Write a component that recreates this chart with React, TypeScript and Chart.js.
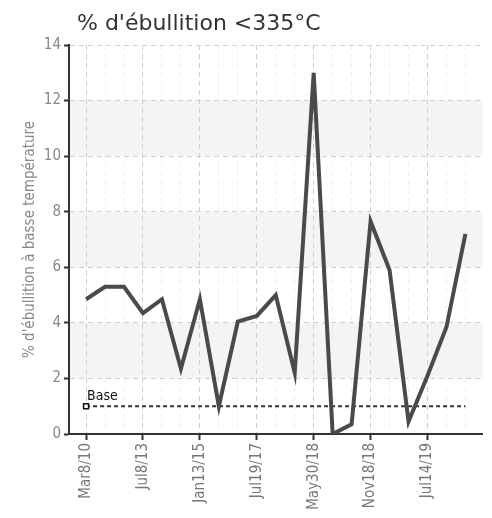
import React, { useEffect, useRef } from "react";
import { Chart, registerables } from "chart.js";

Chart.register(...registerables);

const categories = [
  "Mar8/10", "", "", "Jul8/13", "", "", "Jan13/15", "", "", "Jul19/17", "",
  "", "May30/18", "", "", "Nov18/18", "", "", "Jul14/19", "", "",
];
const values = [
  4.85, 5.3, 5.3, 4.35, 4.85, 2.35, 4.85, 1.0, 4.05, 4.25, 5.0,
  2.2, 13.0, 0.0, 0.35, 7.65, 5.9, 0.45, 2.1, 3.85, 7.2,
];
const baseValues = categories.map(() => 1);
const yTicks = [0, 2, 4, 6, 8, 10, 12, 14];
const titleText = "% d'ébullition <335°C";
const yAxisTitle = "% d'ébullition à basse température";
const baseLabel = "Base";

const NARROW = "'Liberation Sans Narrow', 'DejaVu Sans Condensed', 'Roboto', sans-serif";

export default function App() {
  const ref = useRef<HTMLCanvasElement | null>(null);
  useEffect(() => {
    if (!ref.current) return;
    const bands = {
      id: "bands",
      beforeDraw(chart: any) {
        const { ctx, chartArea } = chart;
        const y = chart.scales.y;
        ctx.save();
        ctx.fillStyle = "#f4f4f4";
        [[2, 4], [6, 8], [10, 12]].forEach(([a, b]) => {
          const y1 = y.getPixelForValue(b);
          const y2 = y.getPixelForValue(a);
          ctx.fillRect(chartArea.left, y1, chartArea.right - chartArea.left, y2 - y1);
        });
        ctx.restore();
      },
      afterDraw(chart: any) {
        const { ctx } = chart;
        ctx.save();
        ctx.font = "22px 'DejaVu Sans'";
        ctx.fillStyle = "#333";
        ctx.textBaseline = "alphabetic";
        ctx.fillText(titleText, 69, 22);
        const x = chart.scales.x.getPixelForValue(0);
        const yy = chart.scales.y.getPixelForValue(baseValues[0]);
        ctx.font = "14px " + NARROW;
        ctx.fillStyle = "#111";
        ctx.fillText(baseLabel, x + 1, yy - 6);
        ctx.restore();
      },
    };
    const chart = new Chart(ref.current, {
      type: "line",
      data: {
        datasets: [
          {
            label: "Série",
            data: values.map((v, i) => ({ x: i, y: v })),
            borderColor: "#4a4a4a",
            borderWidth: 4,
            pointRadius: 0,
            tension: 0,
            borderJoinStyle: "miter",
            order: 1,
          },
          {
            label: baseLabel,
            data: baseValues.map((v, i) => ({ x: i, y: v })),
            borderColor: "#333",
            borderWidth: 2,
            borderDash: [4, 3],
            pointRadius: baseValues.map((_, i) => (i === 0 ? 3.5 : 0)),
            pointStyle: "rect",
            pointBackgroundColor: "#fff",
            pointBorderColor: "#111",
            pointBorderWidth: 1.5,
            order: 2,
          },
        ],
      },
      options: {
        animation: false,
        responsive: false,
        layout: { padding: { top: 37, left: 0, right: 1, bottom: 0 } },
        plugins: { legend: { display: false }, title: { display: false }, tooltip: { enabled: false } },
        scales: {
          x: {
            type: "linear",
            min: -0.9,
            max: 20.9,
            afterBuildTicks(scale: any) {
              scale.ticks = categories.map((_, i) => ({ value: i }));
            },
            afterFit(scale: any) {
              scale.height = 76;
              scale.paddingLeft = 0;
              scale.paddingRight = 0;
            },
            grid: {
              color: (c: any) => (c.tick && c.tick.value % 3 === 0 ? "#cfcfcf" : "#efefef"),
              lineWidth: 1,
              tickLength: 6,
              tickColor: (c: any) => (c.tick && c.tick.value % 3 === 0 ? "#333" : "rgba(0,0,0,0)"),
              tickWidth: 2,
              tickBorderDash: [],
            },
            border: { display: true, color: "#333", width: 2, dash: [5, 4] },
            ticks: {
              autoSkip: false,
              maxRotation: 90,
              minRotation: 90,
              padding: 3,
              color: "#777",
              font: { family: NARROW, size: 15 },
              callback: (v: any) => categories[Number(v)] ?? "",
            },
          },
          y: {
            min: 0,
            max: 14,
            afterBuildTicks(scale: any) {
              scale.ticks = yTicks.map((v) => ({ value: v }));
            },
            afterFit(scale: any) {
              scale.width = 61;
              scale.paddingTop = 0;
              scale.paddingBottom = 0;
            },
            grid: {
              color: "#d0d0d0",
              lineWidth: 1,
              tickLength: 5,
              tickColor: "#333",
              tickWidth: 2,
              tickBorderDash: [],
            },
            border: { display: true, color: "#333", width: 2, dash: [5, 4] },
            ticks: {
              padding: 3,
              color: "#888",
              font: { family: NARROW, size: 15 },
            },
            title: {
              display: true,
              text: yAxisTitle,
              color: "#888",
              font: { family: NARROW, size: 15 },
              padding: { top: 13, bottom: 0 },
            },
          },
        },
      } as any,
      plugins: [bands],
    });
    return () => chart.destroy();
  }, []);
  return (
    <div style={{ width: 480, height: 502 }}>
      <canvas ref={ref} width={480} height={502} style={{ width: 480, height: 502, display: "block" }} />
    </div>
  );
}
